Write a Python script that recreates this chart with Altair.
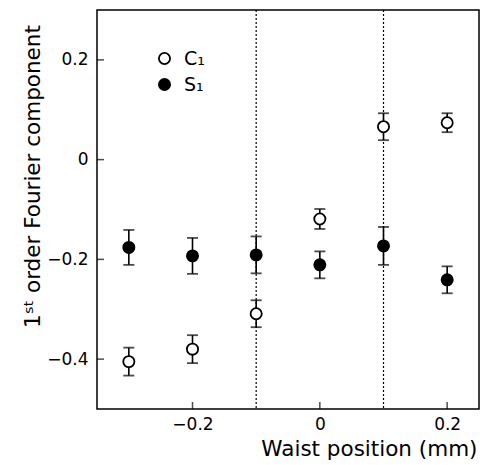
import altair as alt
import pandas as pd

# ---- data ----
waist = [-0.3, -0.2, -0.1, 0.0, 0.1, 0.2]
c1 = [-0.405, -0.380, -0.309, -0.119, 0.066, 0.074]
c1_err = [0.028, 0.028, 0.027, 0.020, 0.027, 0.019]
s1 = [-0.176, -0.193, -0.191, -0.211, -0.173, -0.241]
s1_err = [0.035, 0.036, 0.037, 0.027, 0.038, 0.027]
dashed_x = [-0.1, 0.1]
x_ticks = [-0.2, 0.0, 0.2]
y_ticks = [-0.4, -0.2, 0.0, 0.2]
series_names = ["C\u2081", "S\u2081"]

rows = []
for name, vals, errs in [(series_names[0], c1, c1_err), (series_names[1], s1, s1_err)]:
    for x, v, e in zip(waist, vals, errs):
        rows.append({"x": x, "y": v, "lo": v - e, "hi": v + e, "series": name})
df = pd.DataFrame(rows)
df_dash = pd.DataFrame({"x": dashed_x})
df_xt = pd.DataFrame({"x": x_ticks})
df_yt = pd.DataFrame({"y": y_ticks})

FONT = "DejaVu Sans"
W, H = 382, 399
TICK = 7
sx = alt.Scale(domain=[-0.35, 0.25], nice=False, zero=False)
sy = alt.Scale(domain=[-0.5, 0.3], nice=False, zero=False)

axis_x = alt.Axis(values=x_ticks, format="~g", ticks=False, tickSize=0, domain=False,
                  grid=False, labelFontSize=17, labelFont=FONT, labelColor="black",
                  labelPadding=7,
                  title="Waist position (mm)", titleFont=FONT, titleFontSize=21.5,
                  titleFontWeight="normal", titleColor="black", titleAnchor="end",
                  titleAlign="right", titleX=380, titleY=46, titleBaseline="alphabetic")
axis_y = alt.Axis(values=y_ticks, format="~g", ticks=False, tickSize=0, domain=False,
                  grid=False, labelFontSize=17, labelFont=FONT, labelColor="black",
                  labelPadding=9,
                  title="1\u02e2\u1d57 order Fourier component", titleFont=FONT,
                  titleFontSize=21.5, titleFontWeight="normal", titleColor="black",
                  titleX=-64, titleY=166, titleAlign="center", titleBaseline="middle",
                  titleAngle=270)

X = alt.X("x:Q", scale=sx, axis=axis_x)
base = alt.Chart(df)

dash = alt.Chart(df_dash).mark_rule(color="black", strokeWidth=1.2, strokeDash=[2, 2]).encode(
    x=X
)

err = base.mark_rule(color="black", strokeWidth=1.6).encode(
    x=X,
    y=alt.Y("lo:Q", scale=sy, axis=axis_y),
    y2="hi:Q",
)
cap_lo = base.mark_tick(orient="horizontal", color="black", size=11, thickness=1.8).encode(
    x=X,
    y=alt.Y("lo:Q", scale=sy, axis=axis_y),
)
cap_hi = base.mark_tick(orient="horizontal", color="black", size=11, thickness=1.8).encode(
    x=X,
    y=alt.Y("hi:Q", scale=sy, axis=axis_y),
)

points = base.mark_circle(size=125, strokeWidth=1.8, opacity=1).encode(
    x=X,
    y=alt.Y("y:Q", scale=sy, axis=axis_y),
    fill=alt.Fill("series:N",
                  scale=alt.Scale(domain=series_names, range=["white", "black"]),
                  legend=alt.Legend(title=None, orient="none", legendX=58, legendY=39,
                                    padding=0, symbolType="circle", symbolSize=125,
                                    symbolStrokeColor="black", symbolStrokeWidth=1.8,
                                    labelFont=FONT, labelFontSize=19, labelColor="black",
                                    labelOffset=10, rowPadding=6)),
    stroke=alt.value("black"),
)

# inward-pointing axis ticks
xt = alt.Chart(df_xt).mark_tick(orient="vertical", color="black", size=TICK,
                                thickness=1.5, yOffset=-TICK / 2).encode(
    x=X,
    y=alt.value(H),
)
yt = alt.Chart(df_yt).mark_tick(orient="horizontal", color="black", size=TICK,
                                thickness=1.5, xOffset=TICK / 2).encode(
    x=alt.value(0),
    y=alt.Y("y:Q", scale=sy, axis=axis_y),
)

chart = alt.layer(dash, err, cap_lo, cap_hi, points, xt, yt).properties(
    width=W, height=H,
    padding={"left": 97, "top": 10, "right": 9, "bottom": 56},
    autosize=alt.AutoSizeParams(type="none"),
    background="white",
).configure_view(stroke="black", strokeWidth=1.5)

chart.save("out.html", embed_options={"renderer": "svg", "actions": False})
